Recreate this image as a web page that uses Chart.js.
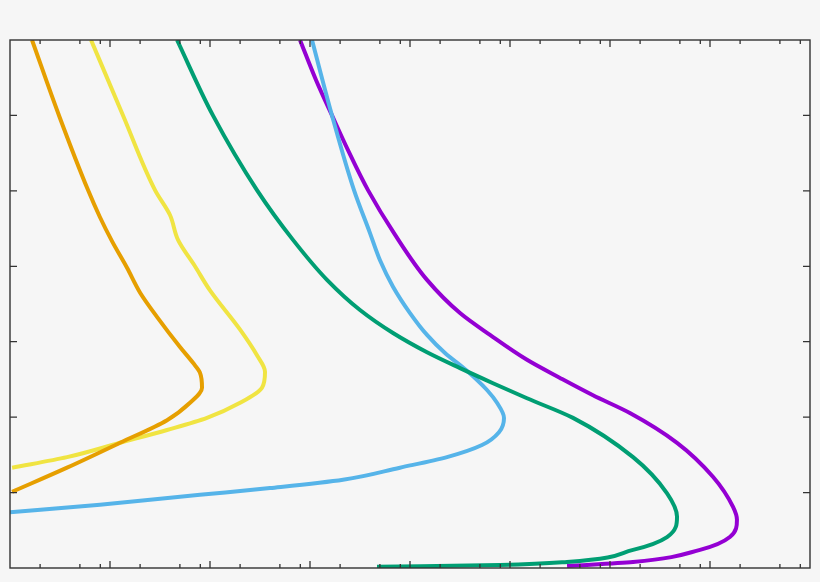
<!DOCTYPE html>
<html>
<head>
<meta charset="utf-8">
<script src="https://cdn.jsdelivr.net/npm/chart.js@4.4.1/dist/chart.umd.min.js"></script>
<style>
  html, body { margin: 0; padding: 0; background: #f6f6f6; }
  #wrap { width: 820px; height: 582px; position: relative; }
</style>
</head>
<body>
<div id="wrap"><canvas id="chart"></canvas></div>
<script>
// values (x on a log axis, y linear 0..7)
const orangeX = [1.66, 3.09, 6.03, 7.94, 10.5, 14.8, 20.0, 29.5, 50.1, 67.6, 79.4, 83.2, 63.1, 37.2, 12.6, 3.72, 1.05]
const orangeY = [7.00, 6.00, 5.01, 4.65, 4.33, 3.98, 3.65, 3.33, 2.93, 2.72, 2.59, 2.39, 2.19, 1.96, 1.66, 1.33, 1.01]

const yellowX = [6.46, 13.5, 28.2, 39.8, 47.9, 70.8, 100, 200, 295, 355, 331, 200, 93.3, 37.2, 12.6, 3.72, 1.05]
const yellowY = [7.00, 6.00, 5.01, 4.68, 4.35, 4.00, 3.68, 3.16, 2.82, 2.60, 2.39, 2.19, 1.99, 1.83, 1.66, 1.47, 1.33]

const greenX = [46.8, 107, 295, 676, 1479, 3162, 6761, 14791, 31623, 67608, 147911, 426580, 1.70e6, 3.72e6, 4.68e6, 3.72e6, 1.70e6, 3.72e5, 7.94e4, 4.68e3]
const greenY = [7.00, 6.00, 5.01, 4.35, 3.82, 3.42, 3.115, 2.86, 2.65, 2.45, 2.25, 1.99, 1.47, 0.99, 0.68, 0.41, 0.24, 0.08, 0.04, 0.015]

const blueX = [1047, 1660, 2754, 3981, 5012, 6761, 10000, 14791, 22387, 36308, 58884, 74131, 87096, 77625, 52481, 23442, 7943, 2138, 398, 79.4, 7.94, 1.0]
const blueY = [7.00, 6.00, 5.01, 4.44, 4.08, 3.73, 3.38, 3.09, 2.85, 2.625, 2.36, 2.19, 1.99, 1.80, 1.63, 1.47, 1.33, 1.17, 1.06, 0.97, 0.84, 0.74]

const purpleX = [794, 1148, 1660, 2399, 3802, 6918, 14791, 31623, 63096, 147911, 316228, 676083, 1.58e6, 4.68e6, 1.07e7, 1.70e7, 1.86e7, 1.58e7, 7.94e6, 1.70e6, 3.72e5]
const purpleY = [7.00, 6.47, 6.00, 5.54, 5.01, 4.44, 3.82, 3.38, 3.09, 2.76, 2.52, 2.29, 2.055, 1.66, 1.21, 0.81, 0.64, 0.41, 0.24, 0.08, 0.027]

// axis ticks (no labels in the picture)
const xMajorTicks = [10, 100, 1e3, 1e4, 1e5, 1e6, 1e7]
const xMinorTicks = [2, 5, 8, 20, 50, 80, 200, 500, 800, 2e3, 5e3, 8e3, 2e4, 5e4, 8e4,
                     2e5, 5e5, 8e5, 2e6, 5e6, 8e6, 2e7, 5e7, 8e7]
const yTicks = [1, 2, 3, 4, 5, 6]

function pts(xs, ys) {
    return xs.map((x, i) => ({ x: x, y: ys[i] }))
}

// frame + inward ticks on all four sides
const framePlugin = {
    id: 'frame',
    afterDatasetsDraw(chart) {
        const ctx = chart.ctx
        const a = chart.chartArea
        const xs = chart.scales.x
        const ys = chart.scales.y
        ctx.save()
        ctx.strokeStyle = '#333'
        ctx.lineWidth = 1.4
        ctx.strokeRect(a.left, a.top, a.right - a.left, a.bottom - a.top)
        ctx.lineWidth = 1.3
        ctx.beginPath()
        const tickX = (v, len) => {
            const p = xs.getPixelForValue(v)
            ctx.moveTo(p, a.bottom); ctx.lineTo(p, a.bottom - len)
            ctx.moveTo(p, a.top); ctx.lineTo(p, a.top + len)
        }
        xMajorTicks.forEach(v => tickX(v, 7))
        xMinorTicks.forEach(v => tickX(v, 4))
        yTicks.forEach(v => {
            const p = ys.getPixelForValue(v)
            ctx.moveTo(a.left, p); ctx.lineTo(a.left + 7, p)
            ctx.moveTo(a.right, p); ctx.lineTo(a.right - 7, p)
        })
        ctx.stroke()
        ctx.restore()
    }
}

const bgPlugin = {
    id: 'bg',
    beforeDraw(chart) {
        const ctx = chart.ctx
        ctx.save()
        ctx.fillStyle = '#f6f6f6'
        ctx.fillRect(0, 0, chart.width, chart.height)
        ctx.restore()
    }
}

const lineStyle = (color) => ({
    borderColor: color,
    backgroundColor: color,
    borderWidth: 4,
    pointRadius: 0,
    showLine: true,
    cubicInterpolationMode: 'monotone',
    fill: false
})

new Chart(document.getElementById('chart'), {
    type: 'scatter',
    data: {
        datasets: [
            { data: pts(orangeX, orangeY), ...lineStyle('#E69F00') },
            { data: pts(yellowX, yellowY), ...lineStyle('#F0E442') },
            { data: pts(greenX, greenY), ...lineStyle('#009E73') },
            { data: pts(blueX, blueY), ...lineStyle('#56B4E9') },
            { data: pts(purpleX, purpleY), ...lineStyle('#9400D3') }
        ]
    },
    options: {
        indexAxis: 'y',
        responsive: true,
        maintainAspectRatio: false,
        animation: false,
        layout: { padding: { left: 10, top: 40, right: 10, bottom: 14 } },
        plugins: { legend: { display: false }, tooltip: { enabled: false } },
        scales: {
            x: { type: 'logarithmic', min: 1, max: 1e8, display: false },
            y: { type: 'linear', min: 0, max: 7, display: false }
        }
    },
    plugins: [bgPlugin, framePlugin]
})
</script>
</body>
</html>
